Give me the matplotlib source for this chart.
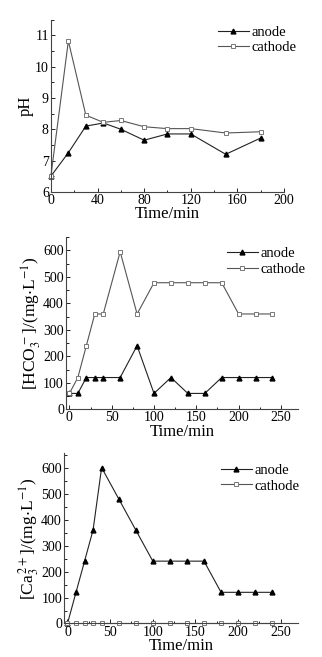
import matplotlib
matplotlib.use('Agg')
import matplotlib.pyplot as plt
from matplotlib.ticker import MultipleLocator

plt.rcParams['font.family'] = ['Liberation Serif', 'DejaVu Serif']
plt.rcParams['mathtext.fontset'] = 'stix'
plt.rcParams['font.size'] = 10

# pH panel
t_ph = [0, 15, 30, 45, 60, 80, 100, 120, 150, 180]
ph_anode = [6.5, 7.25, 8.1, 8.2, 8.0, 7.65, 7.85, 7.85, 7.2, 7.72]
ph_cathode = [6.5, 10.82, 8.45, 8.22, 8.28, 8.08, 8.02, 8.02, 7.88, 7.92]

# HCO3- panel
t_hco = [0, 10, 20, 30, 40, 60, 80, 100, 120, 140, 160, 180, 200, 220, 240]
hco_anode = [60, 60, 120, 120, 120, 120, 240, 60, 120, 60, 60, 120, 120, 120, 120]
hco_cathode = [60, 120, 240, 360, 360, 595, 360, 478, 478, 478, 478, 478, 360, 360, 360]

# Ca2+ panel
t_ca = [0, 10, 20, 30, 40, 60, 80, 100, 120, 140, 160, 180, 200, 220, 240]
ca_anode = [0, 120, 240, 360, 600, 480, 360, 240, 240, 240, 240, 120, 120, 120, 120]
ca_cathode = [0] * 15


def style_axis(ax):
    ax.spines['top'].set_visible(False)
    ax.spines['right'].set_visible(False)
    for s in ('left', 'bottom'):
        ax.spines[s].set_linewidth(0.8)
        ax.spines[s].set_color('#444444')
    ax.tick_params(which='both', direction='in', width=0.6, pad=1.5, labelsize=10)
    ax.tick_params(which='major', length=3)
    ax.tick_params(which='minor', length=1.8)


def draw(ax, t, a, c, leg_xy):
    ax.plot(t, a, color='#222222', lw=0.8, marker='^', ms=3.5,
            mfc='black', mec='black', label='anode', clip_on=False)
    ax.plot(t, c, color='#555555', lw=0.8, marker='s', ms=3,
            mfc='white', mec='#777777', mew=0.7, label='cathode', clip_on=False)
    ax.legend(loc='center left', bbox_to_anchor=leg_xy,
              bbox_transform=ax.figure.transFigure, frameon=False,
              fontsize=10.5, handlelength=2.1, handletextpad=0.2,
              labelspacing=0.15, borderpad=0, borderaxespad=0)
    ax.set_xlabel('Time/min', fontsize=12, labelpad=-0.5)


fig = plt.figure(figsize=(3.22, 6.57), dpi=100)

ax1 = fig.add_axes([0.158, 0.708, 0.724, 0.262])
draw(ax1, t_ph, ph_anode, ph_cathode, (0.677, 0.939))
ax1.set_xlim(0, 200)
ax1.set_ylim(6, 11.5)
ax1.xaxis.set_major_locator(MultipleLocator(40))
ax1.xaxis.set_minor_locator(MultipleLocator(20))
ax1.yaxis.set_major_locator(MultipleLocator(1))
ax1.yaxis.set_minor_locator(MultipleLocator(0.5))
ax1.set_ylabel('pH', fontsize=12, labelpad=1)
style_axis(ax1)

ax2 = fig.add_axes([0.205, 0.377, 0.72, 0.262])
draw(ax2, t_hco, hco_anode, hco_cathode, (0.705, 0.602))
ax2.set_xlim(-4, 270)
ax2.set_ylim(0, 650)
ax2.xaxis.set_major_locator(MultipleLocator(50))
ax2.xaxis.set_minor_locator(MultipleLocator(25))
ax2.yaxis.set_major_locator(MultipleLocator(100))
ax2.yaxis.set_minor_locator(MultipleLocator(50))
ax2.set_ylabel(r'[HCO$_3^{\,-}$]/(mg$\cdot$L$^{-1}$)', fontsize=12.5, labelpad=0)
style_axis(ax2)

ax3 = fig.add_axes([0.199, 0.051, 0.726, 0.259])
draw(ax3, t_ca, ca_anode, ca_cathode, (0.686, 0.272))
ax3.set_xlim(-4, 270)
ax3.set_ylim(0, 655)
ax3.xaxis.set_major_locator(MultipleLocator(50))
ax3.xaxis.set_minor_locator(MultipleLocator(25))
ax3.yaxis.set_major_locator(MultipleLocator(100))
ax3.yaxis.set_minor_locator(MultipleLocator(50))
ax3.set_ylabel(r'[Ca$_3^{\,2+}$]/(mg$\cdot$L$^{-1}$)', fontsize=12.5, labelpad=0)
style_axis(ax3)

fig.savefig('out.png', dpi=100)
